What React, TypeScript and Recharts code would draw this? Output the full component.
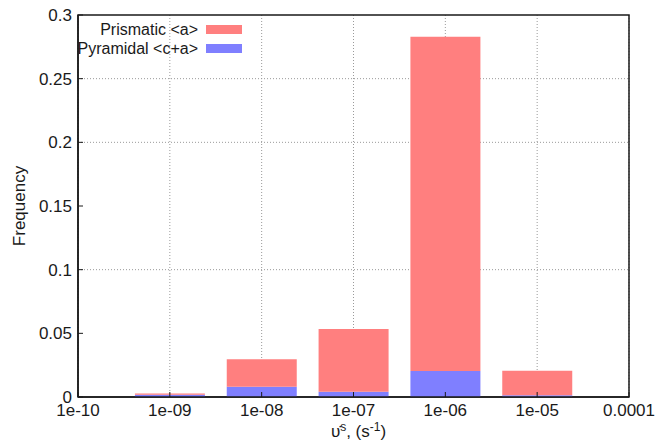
import React from "react";
import {
  BarChart,
  Bar,
  XAxis,
  YAxis,
  CartesianGrid,
  Legend,
  ReferenceArea,
} from "recharts";

// strain-rate bins (centre of each bar)
const rates = ["1e-09", "1e-08", "1e-07", "1e-06", "1e-05"];
const prismatic = [0.001, 0.0215, 0.0492, 0.2626, 0.0194];
const pyramidal = [0.0018, 0.0081, 0.0042, 0.0204, 0.0013];

const xTickLabels = ["1e-10", "1e-09", "1e-08", "1e-07", "1e-06", "1e-05", "0.0001"];
const yTicks = [0, 0.05, 0.1, 0.15, 0.2, 0.25, 0.3];
const yGridValues = [0.1, 0.2, 0.25];

const exp10 = (s: string) => Math.round(Math.log10(Number(s)));
const xTicks = xTickLabels.map(exp10);

const data = rates.map((r, i) => ({
  x: exp10(r),
  prismatic: prismatic[i],
  pyramidal: pyramidal[i],
}));

const FONT = "'Liberation Sans', Arial, sans-serif";
const INK = "#1a1a1a";

const legendRows = [
  { name: "Prismatic <a>", color: "#ff7f7f" },
  { name: "Pyramidal <c+a>", color: "#7f7fff" },
];

function LegendBox() {
  return (
    <div style={{ fontFamily: FONT, fontSize: 16, color: INK }}>
      {legendRows.map((r) => (
        <div
          key={r.name}
          style={{
            display: "flex",
            justifyContent: "flex-end",
            alignItems: "center",
            height: 19,
            gap: 8,
          }}
        >
          <span>{r.name}</span>
          <span style={{ width: 36, height: 9, background: r.color }} />
        </div>
      ))}
    </div>
  );
}

export default function App() {
  return (
    <div style={{ position: "absolute", left: 0, top: 0, background: "#fff" }}>
      <BarChart
        width={658}
        height={443}
        data={data}
        margin={{ top: 15, right: 29, bottom: 0, left: 0 }}
      >
        <CartesianGrid
          stroke="#9a9a9a"
          strokeDasharray="1 2"
          horizontalValues={yGridValues}
        />
        <XAxis
          dataKey="x"
          type="number"
          domain={[xTicks[0], xTicks[xTicks.length - 1]]}
          ticks={xTicks}
          tickFormatter={(v: number) => xTickLabels[xTicks.indexOf(v)] ?? ""}
          height={46}
          tickSize={-5}
          tickMargin={12}
          axisLine={{ stroke: INK, strokeWidth: 1.5 }}
          tickLine={{ stroke: INK }}
          tick={{ fill: INK, fontSize: 17, fontFamily: FONT }}
          interval={0}
          label={({ viewBox }: any) => (
            <text
              x={viewBox.x + viewBox.width / 2 + 5}
              y={viewBox.y + 40}
              textAnchor="middle"
              fontFamily={FONT}
              fontSize={17}
              fill={INK}
            >
              <tspan>υ̇</tspan>
              <tspan dy={-6} fontSize={12}>s</tspan>
              <tspan dy={6}>, (s</tspan>
              <tspan dy={-6} fontSize={12}>-1</tspan>
              <tspan dy={6}>)</tspan>
            </text>
          )}
        />
        <YAxis
          domain={[0, 0.3]}
          ticks={yTicks}
          width={78}
          tickSize={-5}
          tickMargin={11}
          axisLine={{ stroke: INK, strokeWidth: 1.5 }}
          tickLine={{ stroke: INK }}
          tick={{ fill: INK, fontSize: 17, fontFamily: FONT }}
          interval={0}
          label={({ viewBox }: any) => {
            const cx = viewBox.x + 19;
            const cy = viewBox.y + viewBox.height / 2;
            return (
              <text
                x={cx}
                y={cy}
                transform={`rotate(-90 ${cx} ${cy})`}
                textAnchor="middle"
                dominantBaseline="central"
                fontFamily={FONT}
                fontSize={17}
                fill={INK}
              >
                Frequency
              </text>
            );
          }}
        />
        <Legend
          layout="vertical"
          align="center"
          verticalAlign="middle"
          wrapperStyle={{ left: 40, top: 20, width: 202 }}
          content={() => <LegendBox />}
        />
        <Bar
          dataKey="pyramidal"
          stackId="a"
          fill="#7f7fff"
          barSize={70}
          isAnimationActive={false}
        />
        <Bar
          dataKey="prismatic"
          stackId="a"
          fill="#ff7f7f"
          barSize={70}
          isAnimationActive={false}
        />
        <ReferenceArea
          x1={xTicks[0]}
          x2={xTicks[xTicks.length - 1]}
          y1={0}
          y2={0.3}
          fill="none"
          stroke={INK}
          strokeWidth={1.5}
        />
      </BarChart>
    </div>
  );
}
